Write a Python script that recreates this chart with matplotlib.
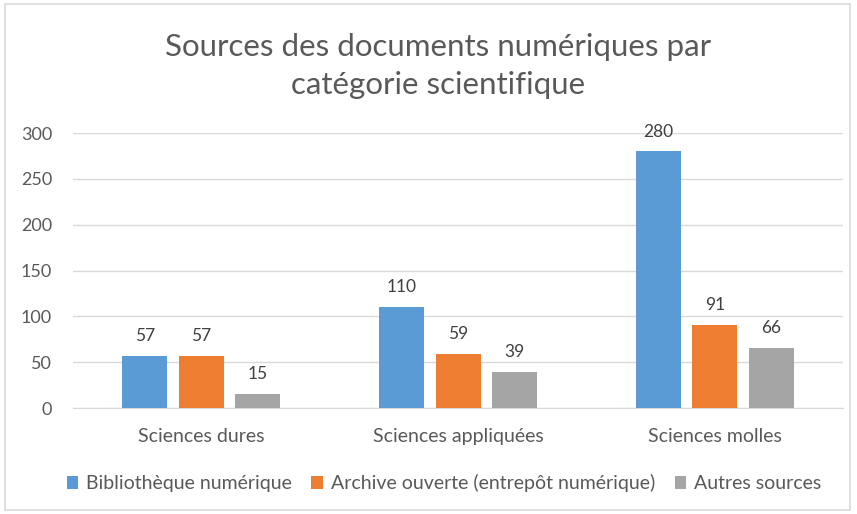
import numpy as np
import matplotlib.pyplot as plt
from matplotlib.patches import Rectangle

# data
categories = ['Sciences dures', 'Sciences appliquées', 'Sciences molles']
series_names = ['Bibliothèque numérique', 'Archive ouverte (entrepôt numérique)', 'Autres sources']
bibliotheque = [57, 110, 280]
archive = [57, 59, 91]
autres = [15, 39, 66]
colors = ['#5B9BD5', '#ED7D31', '#A5A5A5']

plt.rcParams['font.family'] = ['Lato', 'DejaVu Sans']
text_color = '#595959'

fig = plt.figure(figsize=(8.57, 5.14), dpi=100)
ax = fig.add_axes([0.085, 0.206, 0.899, 0.535])

# light frame around the chart area
fig.patches.append(Rectangle((0.006, 0.008), 0.986, 0.985, transform=fig.transFigure,
                             fill=False, edgecolor='#D9D9D9', linewidth=1.2))

x = np.arange(len(categories))
width = 0.175
step = 0.22
for i, (vals, name) in enumerate(zip([bibliotheque, archive, autres], series_names)):
    pos = x + (i - 1) * step
    bars = ax.bar(pos, vals, width, color=colors[i], label=name, zorder=3)
    for b, v in zip(bars, vals):
        ax.text(b.get_x() + b.get_width() / 2, v + 13, str(v), ha='center', va='bottom',
                fontsize=12.5, color='#404040')

ax.set_xlim(-0.5, 2.5)
ax.set_ylim(0, 300)
ax.set_yticks(range(0, 301, 50))
ax.set_xticks(x)
ax.set_xticklabels(categories)
ax.yaxis.grid(True, color='#D9D9D9', linewidth=1, zorder=0)
for s in ax.spines.values():
    s.set_visible(False)
ax.spines['bottom'].set_visible(True)
ax.spines['bottom'].set_color('#D9D9D9')
ax.tick_params(axis='both', length=0, colors=text_color)
ax.tick_params(axis='y', pad=15, labelsize=13)
ax.tick_params(axis='x', pad=14, labelsize=14)

fig.text(0.511, 0.871, 'Sources des documents numériques par\ncatégorie scientifique',
         ha='center', va='center', fontsize=22.5, color=text_color, linespacing=1.45)

fig.legend(loc='center', bbox_to_anchor=(0.518, 0.06), ncol=3, frameon=False,
           fontsize=14, handlelength=0.6, handleheight=0.7, handletextpad=0.4,
           columnspacing=1.0, labelcolor=text_color)

fig.savefig('out.png', dpi=100)
